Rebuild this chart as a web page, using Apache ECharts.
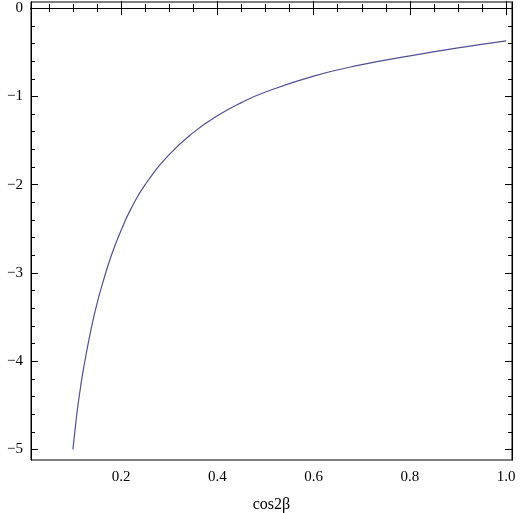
<!DOCTYPE html>
<html><head><meta charset="utf-8">
<script src="https://cdn.jsdelivr.net/npm/echarts@6/dist/echarts.min.js"></script>
<style>html,body{margin:0;padding:0;background:#fff}#c{width:520px;height:513px}</style>
</head><body><div id="c"></div>
<script>
const xVals = [0.1,0.105,0.11,0.115,0.12,0.13,0.14,0.15,0.16,0.18,0.2,0.22,0.25,0.3,0.35,0.4,0.45,0.5,0.6,0.7,0.8,0.9,1.0];
const yVals = [-5.0,-4.75,-4.52,-4.33,-4.15,-3.85,-3.58,-3.35,-3.15,-2.8,-2.52,-2.28,-2.0,-1.66,-1.41,-1.22,-1.07,-0.95,-0.77,-0.64,-0.54,-0.45,-0.37];
const xTicks = [0.2,0.4,0.6,0.8,1.0];
const yTicks = [0,-1,-2,-3,-4,-5];
const xMinor = [0.05,0.1,0.15,0.25,0.3,0.35,0.45,0.5,0.55,0.65,0.7,0.75,0.85,0.9,0.95];
const yMinor = [];
for (let v=-5; v<=0.01; v+=0.2){ const r=Math.round(v*10)/10; if (Math.abs(r-Math.round(r))>0.01) yMinor.push(r); }
const XMIN=0.013, XMAX=1.012, YMIN=-5.12, YMAX=0.07;
const font='Liberation Serif';
function ax(extra){ return Object.assign({type:'value',min:extra.dim==='x'?XMIN:YMIN,max:extra.dim==='x'?XMAX:YMAX,splitLine:{show:false},axisLine:{show:true,lineStyle:{color:'#000',width:1}}},extra.o); }
const chart = echarts.init(document.getElementById('c'));
chart.setOption({
  animation:false,
  grid:{left:31,right:8,top:2,bottom:53,containLabel:false,outerBoundsMode:'none',show:true,borderColor:'#000',borderWidth:1},
  xAxis:[
    ax({dim:'x',o:{position:'bottom',axisTick:{inside:true,length:7,customValues:xTicks,lineStyle:{color:'#000'}},axisLabel:{customValues:xTicks,formatter:v=>v.toFixed(1),fontFamily:font,fontSize:15,color:'#000',margin:10},
      name:'cos2β',nameLocation:'middle',nameGap:37,nameTextStyle:{fontFamily:font,fontSize:16,color:'#000'}}}),
    ax({dim:'x',o:{position:'bottom',axisTick:{inside:true,length:4,customValues:xMinor,lineStyle:{color:'#000'}},axisLabel:{show:false}}}),
    ax({dim:'x',o:{position:'top',axisTick:{inside:true,length:7,customValues:xTicks,lineStyle:{color:'#000'}},axisLabel:{show:false}}}),
    ax({dim:'x',o:{position:'top',axisTick:{inside:true,length:4,customValues:xMinor,lineStyle:{color:'#000'}},axisLabel:{show:false}}})
  ],
  yAxis:[
    ax({dim:'y',o:{position:'left',axisTick:{inside:true,length:7,customValues:yTicks,lineStyle:{color:'#000'}},axisLabel:{customValues:yTicks,formatter:v=>v===0?'0':(v<0?'\u2212'+(-v):''+v),fontFamily:font,fontSize:15,color:'#000',margin:8},
      name:'{i|e}{s|u}',nameLocation:'middle',nameGap:20,nameRotate:90,nameTextStyle:{rich:{i:{fontFamily:font,fontStyle:'italic',fontSize:17,color:'#000'},s:{fontFamily:font,fontStyle:'italic',fontSize:12,color:'#000',padding:[8,0,0,0]}}}}}),
    ax({dim:'y',o:{position:'left',axisTick:{inside:true,length:4,customValues:yMinor,lineStyle:{color:'#000'}},axisLabel:{show:false}}}),
    ax({dim:'y',o:{position:'right',axisTick:{inside:true,length:7,customValues:yTicks,lineStyle:{color:'#000'}},axisLabel:{show:false}}}),
    ax({dim:'y',o:{position:'right',axisTick:{inside:true,length:4,customValues:yMinor,lineStyle:{color:'#000'}},axisLabel:{show:false}}})
  ],
  series:[{type:'line',smooth:0.5,symbol:'none',data:xVals.map((x,i)=>[x,yVals[i]]),lineStyle:{color:'#4f4f9a',width:1.2},xAxisIndex:0,yAxisIndex:0}]
});
</script></body></html>
